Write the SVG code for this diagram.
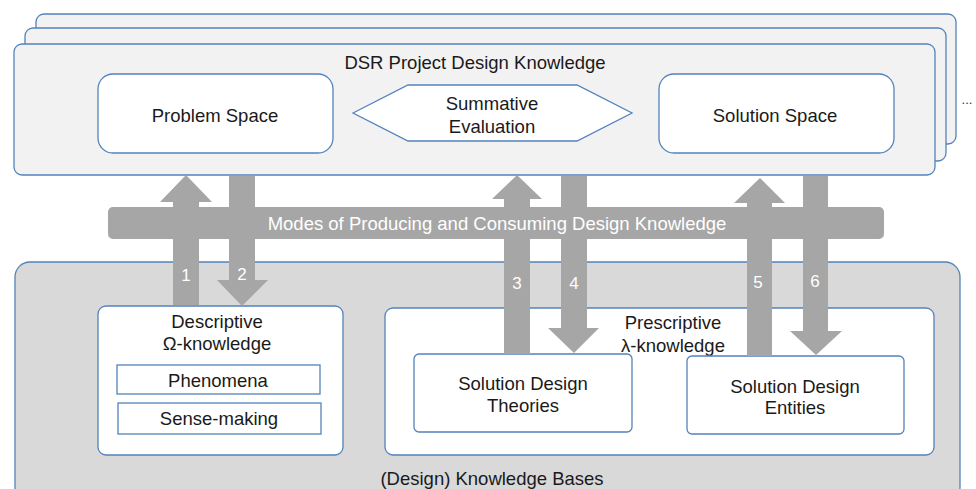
<svg xmlns="http://www.w3.org/2000/svg" width="976" height="489" viewBox="0 0 976 489">
<style>
text{font-family:"Liberation Sans",Arial,sans-serif;font-size:18.5px;fill:#1a1a1a;text-anchor:middle;dominant-baseline:central}
.frame{fill:#f2f2f2;stroke:#5383bb;stroke-width:1.3}
.box{fill:#ffffff;stroke:#5383bb;stroke-width:1.3}
.kb{fill:#d9d9d9;stroke:#5383bb;stroke-width:1.3}
.arr{fill:#a6a6a6}
.wt{fill:#ffffff}
.num{fill:#ffffff;font-size:17px}
</style>
<g id="frame-back"><rect class="frame" x="36" y="14" width="920" height="130" rx="8"/></g>
<g id="frame-middle"><rect class="frame" x="25" y="28" width="921" height="133" rx="8"/></g>
<g id="dsr-project">
<rect class="frame" x="14" y="44" width="921" height="131" rx="8"/>
<text x="475" y="62">DSR Project Design Knowledge</text>
</g>
<g id="problem-space"><rect class="box" x="98" y="74" width="235" height="79" rx="15"/><text x="215" y="115">Problem Space</text></g>
<g id="summative-evaluation"><polygon class="box" points="353,113 408,85 577,85 632,113 577,141 408,141"/><text x="492" y="103">Summative</text><text x="492" y="126">Evaluation</text></g>
<g id="solution-space"><rect class="box" x="659" y="74" width="235" height="79" rx="15"/><text x="775" y="115">Solution Space</text></g>
<text x="967" y="99" style="font-size:13px;fill:#333">...</text>
<g id="knowledge-bases">
<rect class="kb" x="15" y="262" width="945" height="240" rx="15"/>
<text x="492" y="478">(Design) Knowledge Bases</text>
</g>
<g id="descriptive">
<rect class="box" x="98" y="306" width="245" height="149" rx="8"/>
<text x="217" y="321">Descriptive</text>
<text x="217" y="343">Ω-knowledge</text>
</g>
<g id="phenomena"><rect class="box" x="117" y="365" width="203" height="29"/><text x="218" y="380">Phenomena</text></g>
<g id="sense-making"><rect class="box" x="118" y="403" width="203" height="31"/><text x="219" y="418">Sense-making</text></g>
<g id="prescriptive">
<rect class="box" x="385" y="308" width="549" height="147" rx="8"/>
<text x="673" y="322">Prescriptive</text>
<text x="673" y="345">λ-knowledge</text>
</g>
<g id="solution-design-theories"><rect class="box" x="414" y="354" width="218" height="78" rx="5"/><text x="523" y="383">Solution Design</text><text x="523" y="405">Theories</text></g>
<g id="solution-design-entities"><rect class="box" x="687" y="356" width="217" height="78" rx="5"/><text x="795" y="386">Solution Design</text><text x="795" y="407">Entities</text></g>
<g id="connectors">
<rect class="arr" x="108" y="207" width="776" height="32" rx="5"/>
<polygon class="arr" points="173,305 173,202 160,202 186,175 212,202 199,202 199,305"/>
<polygon class="arr" points="229,176 255,176 255,280 268,280 242,306 217,280 229,280"/>
<polygon class="arr" points="504,354 504,199 492,199 517,175 542,199 530,199 530,354"/>
<polygon class="arr" points="561,176 587,176 587,328 599,328 574,353 548,328 561,328"/>
<polygon class="arr" points="747,356 747,203 734,203 760,178 785,203 772,203 772,356"/>
<polygon class="arr" points="803,176 828,176 828,331 842,331 816,355 790,331 803,331"/>
<text class="wt" x="497" y="223">Modes of Producing and Consuming Design Knowledge</text>
<text class="num" x="186" y="275">1</text>
<text class="num" x="242" y="274">2</text>
<text class="num" x="517" y="283">3</text>
<text class="num" x="574" y="283">4</text>
<text class="num" x="758" y="282">5</text>
<text class="num" x="815" y="281">6</text>
</g>
</svg>
